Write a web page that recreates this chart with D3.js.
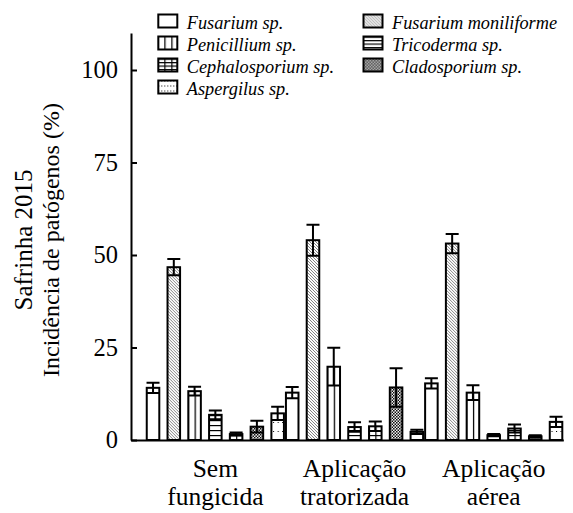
<!DOCTYPE html>
<html>
<head>
<meta charset="utf-8">
<script src="https://cdn.jsdelivr.net/npm/d3@7"></script>
<style>
  html, body { margin: 0; padding: 0; background: #fff; }
  svg { display: block; }
</style>
</head>
<body>
<svg id="chart" width="573" height="513"></svg>
<script>
// Treatments (x groups) and pathogen species (series)
const groups = ["Sem fungicida", "Aplicação tratorizada", "Aplicação aérea"];
const species = ["Fusarium sp.", "Fusarium moniliforme", "Penicillium sp.", "Tricoderma sp.",
                 "Cephalosporium sp.", "Cladosporium sp.", "Aspergilus sp."];
// Fill style per species
const fills = ["none", "diag", "vert", "horiz", "grid", "check", "dots"];

// Mean incidence (%) per species, one array per treatment
const semFungicida = [14.1, 46.7, 13.2, 6.8, 1.6, 3.6, 7.2];
const tratorizada  = [12.8, 54.0, 19.8, 3.5, 3.7, 14.2, 2.2];
const aerea        = [15.3, 53.1, 12.8, 1.3, 3.1, 1.0, 4.9];
// Standard errors
const semFungicidaErr = [1.4, 2.2, 1.2, 1.2, 0.4, 1.6, 1.8];
const tratorizadaErr  = [1.5, 4.2, 5.1, 1.3, 1.3, 5.2, 0.6];
const aereaErr        = [1.4, 2.6, 2.0, 0.3, 1.1, 0.3, 1.4];

const yTicks = [0, 25, 50, 75, 100];
const yTitle = ["Safrinha 2015", "Incidência de patógenos (%)"];

const means = [semFungicida, tratorizada, aerea];
const errs = [semFungicidaErr, tratorizadaErr, aereaErr];

const SERIF = '"Liberation Serif", "Times New Roman", Times, serif';

const svg = d3.select("#chart");
const defs = svg.append("defs");

const x0 = 131, xEnd = 563.3, yBase = 440;

const y = d3.scaleLinear().domain([0, 110]).range([yBase, 33]);
const xGroup = d3.scaleBand().domain(groups).range([x0, xEnd])
  .paddingInner(0).paddingOuter(0.053).align(1);
const xSeries = d3.scaleBand().domain(species).range([0, xGroup.bandwidth()])
  .paddingInner(0.3).paddingOuter(0);

// Hatch pattern builder; (px, py) anchors the pattern, small = legend swatch spacing
function makePattern(id, kind, px, py, small) {
  const p = defs.append("pattern").attr("id", id)
    .attr("patternUnits", "userSpaceOnUse").attr("x", px).attr("y", py);
  const sp = small ? 3.5 : 5;
  if (kind === "diag") {
    p.attr("width", 3).attr("height", 3);
    p.append("rect").attr("width", 3).attr("height", 3).attr("fill", "#fff");
    p.append("path").attr("d", "M0,0L3,3M-1,2L1,4M2,-1L4,1")
      .attr("stroke", "#000").attr("stroke-width", 0.7)
      .attr("stroke-dasharray", "1,0.4");
  } else if (kind === "vert") {
    p.attr("width", 7).attr("height", 10);
    p.append("rect").attr("width", 7).attr("height", 10).attr("fill", "#fff");
    p.append("line").attr("x1", 0.6).attr("x2", 0.6).attr("y1", 0).attr("y2", 10)
      .attr("stroke", "#000").attr("stroke-width", 1.3);
  } else if (kind === "horiz") {
    p.attr("width", 10).attr("height", sp);
    p.append("rect").attr("width", 10).attr("height", sp).attr("fill", "#fff");
    p.append("line").attr("x1", 0).attr("x2", 10).attr("y1", 0.6).attr("y2", 0.6)
      .attr("stroke", "#000").attr("stroke-width", 1.2);
  } else if (kind === "grid") {
    p.attr("width", 7).attr("height", sp);
    p.append("rect").attr("width", 7).attr("height", sp).attr("fill", "#fff");
    p.append("line").attr("x1", 0).attr("x2", 7).attr("y1", 0.6).attr("y2", 0.6)
      .attr("stroke", "#000").attr("stroke-width", 1.2);
    p.append("line").attr("x1", 0.6).attr("x2", 0.6).attr("y1", 0).attr("y2", sp)
      .attr("stroke", "#000").attr("stroke-width", 1.2);
  } else if (kind === "check") {
    p.attr("width", 3).attr("height", 3);
    p.append("rect").attr("width", 3).attr("height", 3).attr("fill", "#fff");
    p.append("rect").attr("width", 1.5).attr("height", 1.5).attr("fill", "#000");
    p.append("rect").attr("x", 1.5).attr("y", 1.5).attr("width", 1.5).attr("height", 1.5).attr("fill", "#000");
  } else if (kind === "dots") {
    const w = small ? 3 : 4.5, h = small ? 5 : 9;
    p.attr("width", w).attr("height", h);
    p.append("rect").attr("width", w).attr("height", h).attr("fill", "#fff");
    p.append("rect").attr("x", 0).attr("y", 0).attr("width", 1).attr("height", 1).attr("fill", "#000");
  }
  return "url(#" + id + ")";
}

function fillFor(kind, id, px, py, small) {
  return kind === "none" ? "#fff" : makePattern(id, kind, px, py, small);
}

// Flatten data into bar records
const bars = [];
groups.forEach((g, gi) => {
  species.forEach((s, si) => {
    bars.push({ g, gi, s, si, v: means[gi][si], e: errs[gi][si] });
  });
});

const bw = xSeries.bandwidth();
const barX = d => xGroup(d.g) + xSeries(d.s);

// Bars
svg.append("g").selectAll("rect").data(bars).join("rect")
  .attr("x", d => barX(d) + 1)
  .attr("y", d => y(d.v))
  .attr("width", bw - 2)
  .attr("height", d => y(0) - y(d.v))
  .attr("fill", d => fillFor(fills[d.si], "p" + d.gi + "_" + d.si, barX(d) + bw / 2, yBase, false))
  .attr("stroke", "#000").attr("stroke-width", 2);

// Error bars (mean ± SE) with caps
const eg = svg.append("g").attr("stroke", "#000").attr("stroke-width", 2).attr("fill", "none");
const cap = 6.5;
eg.selectAll("path").data(bars).join("path")
  .attr("d", d => {
    const cx = barX(d) + bw / 2, yt = y(d.v + d.e), yb = y(Math.max(0, d.v - d.e));
    return `M${cx},${yt}L${cx},${yb}M${cx - cap},${yt}L${cx + cap},${yt}M${cx - cap},${yb}L${cx + cap},${yb}`;
  });

// Y axis, ticks pointing inward
const yAxis = svg.append("g").attr("transform", `translate(${x0},0)`)
  .call(d3.axisLeft(y).tickValues(yTicks).tickSize(-6).tickSizeOuter(0).tickPadding(13));
yAxis.attr("font-family", null).attr("font-size", null);
yAxis.select(".domain").attr("stroke-width", 2);
yAxis.selectAll(".tick line").attr("stroke-width", 2);
yAxis.selectAll(".tick text")
  .style("font-family", SERIF).style("font-size", "24.5px").attr("fill", "#000");

// X axis with two-line group labels
const xAxis = svg.append("g").attr("transform", `translate(0,${yBase})`)
  .call(d3.axisBottom(xGroup).tickSize(0).tickSizeOuter(0));
xAxis.attr("font-family", null).attr("font-size", null);
xAxis.select(".domain").attr("stroke-width", 2);
xAxis.selectAll(".tick text").each(function(d) {
  const t = d3.select(this).text(null).attr("y", 0).attr("dy", null).attr("fill", "#000")
    .style("font-family", SERIF).style("font-size", "25.5px");
  const i = d.indexOf(" ");
  const lines = [d.slice(0, i), d.slice(i + 1)];
  lines.forEach((ln, k) => t.append("tspan").attr("x", 0).attr("y", 37 + k * 28).text(ln));
});

// Y axis title (two lines)
yTitle.forEach((ln, k) => {
  svg.append("text")
    .attr("transform", `translate(${32 + k * 27},240) rotate(-90)`)
    .attr("text-anchor", "middle")
    .style("font-family", SERIF).style("font-size", k === 0 ? "25px" : "24px")
    .text(ln);
});

// Legend: two columns, filled row by row
const legX = [157.3, 362.5];
const leg = svg.append("g");
species.forEach((s, i) => {
  const col = i % 2, row = Math.floor(i / 2);
  const lx = legX[col], ly = 13.5 + row * 22;
  leg.append("rect")
    .attr("x", lx + 1).attr("y", ly + 1).attr("width", 19).attr("height", 13)
    .attr("fill", fillFor(fills[i], "lg" + i, lx + (fills[i] === "vert" || fills[i] === "grid" ? 0 : 1), ly + 1, true))
    .attr("stroke", "#000").attr("stroke-width", 2);
  leg.append("text")
    .attr("x", lx + 29.5).attr("y", ly + 15.5)
    .style("font-family", SERIF).style("font-size", "18.3px").style("font-style", "italic")
    .text(s);
});
</script>
</body>
</html>
